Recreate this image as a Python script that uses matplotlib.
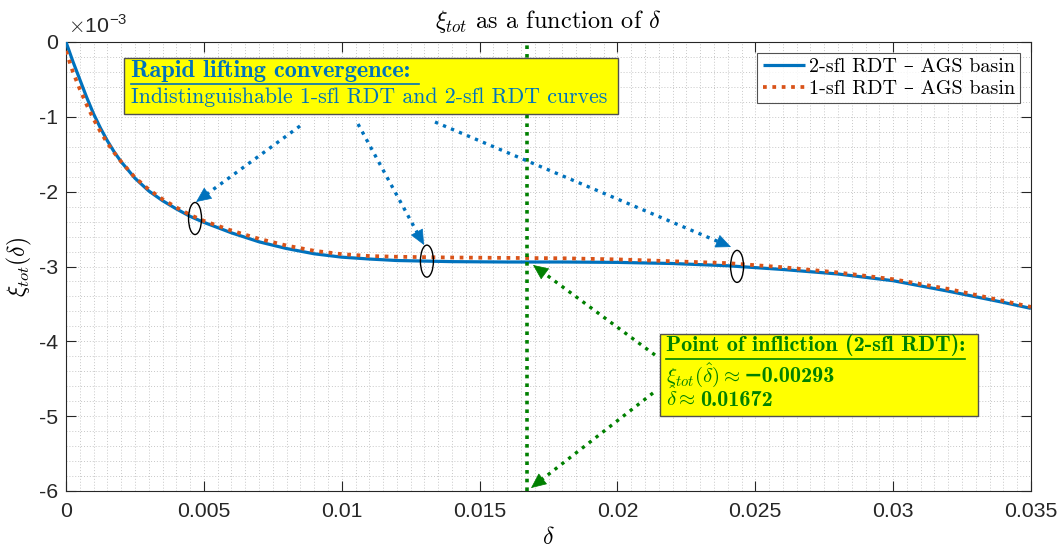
import numpy as np
import matplotlib
matplotlib.use("Agg")
import matplotlib.pyplot as plt
from matplotlib.patches import Ellipse, Rectangle, FancyArrowPatch
from matplotlib.lines import Line2D

# ---------------- data ----------------
delta = [0, 0.00025, 0.0005, 0.00075, 0.001, 0.00125, 0.0015, 0.00175, 0.002, 0.0025,
         0.003, 0.0035, 0.004, 0.0045, 0.005, 0.006, 0.007, 0.008, 0.009, 0.010,
         0.011, 0.012, 0.014, 0.016, 0.018, 0.020, 0.022, 0.024, 0.026, 0.028,
         0.030, 0.032, 0.034, 0.035]
xi_2sfl = [0.0, -0.26e-3, -0.50e-3, -0.74e-3, -0.96e-3, -1.15e-3, -1.32e-3, -1.47e-3,
           -1.60e-3, -1.82e-3, -1.99e-3, -2.12e-3, -2.23e-3, -2.33e-3, -2.41e-3,
           -2.55e-3, -2.67e-3, -2.76e-3, -2.83e-3, -2.875e-3, -2.90e-3, -2.92e-3,
           -2.935e-3, -2.94e-3, -2.94e-3, -2.945e-3, -2.96e-3, -2.99e-3, -3.04e-3,
           -3.10e-3, -3.19e-3, -3.33e-3, -3.48e-3, -3.56e-3]
xi_1sfl = [-0.12e-3, -0.40e-3, -0.63e-3, -0.84e-3, -1.03e-3, -1.20e-3, -1.35e-3, -1.48e-3,
           -1.60e-3, -1.81e-3, -1.97e-3, -2.10e-3, -2.21e-3, -2.31e-3, -2.39e-3,
           -2.52e-3, -2.63e-3, -2.72e-3, -2.79e-3, -2.835e-3, -2.86e-3, -2.87e-3,
           -2.88e-3, -2.885e-3, -2.89e-3, -2.905e-3, -2.93e-3, -2.955e-3, -3.01e-3,
           -3.08e-3, -3.17e-3, -3.30e-3, -3.46e-3, -3.54e-3]
x_ticks = [0, 0.005, 0.01, 0.015, 0.02, 0.025, 0.03, 0.035]
x_tick_labels = ["0", "0.005", "0.01", "0.015", "0.02", "0.025", "0.03", "0.035"]
y_ticks = [-6e-3, -5e-3, -4e-3, -3e-3, -2e-3, -1e-3, 0]
y_tick_labels = ["-6", "-5", "-4", "-3", "-2", "-1", "0"]
inflection_delta = 0.01672
inflection_xi = -0.00293
highlight_delta = [0.00468, 0.01309, 0.02434]
series_labels = ["2-sfl RDT \u2013 AGS basin", "1-sfl RDT \u2013 AGS basin"]

# ---------------- style ----------------
BLUE = "#0072BD"
ORANGE = "#D95319"
GREEN = "#008000"
plt.rcParams["mathtext.fontset"] = "cm"
TICKFONT = "Liberation Sans"
SERIF = ["cmr10", "DejaVu Serif"]
SERIF_B = ["cmb10", "DejaVu Serif"]

W, H = 1063, 550
fig = plt.figure(figsize=(W / 100, H / 100), dpi=100)
L, R, T, B = 66, 1031, 42, 491
ax = fig.add_axes([L / W, 1 - B / H, (R - L) / W, (B - T) / H])


def fp(x, y):
    return (x / W, 1 - y / H)


ax.plot(delta, xi_2sfl, color=BLUE, lw=2.3, solid_capstyle="butt", label=series_labels[0], zorder=4)
ax.plot(delta, xi_1sfl, color=ORANGE, lw=2.7, linestyle=(0, (1, 1.5)), label=series_labels[1], zorder=5)
ax.axvline(inflection_delta, color=GREEN, lw=2.6, linestyle=(0, (1, 1.4)), zorder=6)

ax.set_xlim(0, 0.035)
ax.set_ylim(-6e-3, 0)
ax.set_xticks(x_ticks)
ax.set_xticklabels(x_tick_labels, fontfamily=TICKFONT, fontsize=15.3)
ax.set_yticks(y_ticks)
ax.set_yticklabels(y_tick_labels, fontfamily=TICKFONT, fontsize=15.3)
ax.set_xticks(np.arange(0, 0.0351, 0.0005), minor=True)
ax.set_yticks(np.arange(-6e-3, 0.00001, 0.2e-3), minor=True)
ax.tick_params(which="major", direction="in", length=7, width=0.8, top=True, right=True, color="#262626",
               labelcolor="#262626")
ax.tick_params(axis="x", which="major", pad=8)
ax.tick_params(axis="y", which="major", pad=6)
ax.tick_params(which="minor", length=0, top=True, right=True)
ax.grid(which="both", color="#c8c8c8", lw=0.7, linestyle=(0, (1, 2)))
ax.set_axisbelow(True)
for s in ax.spines.values():
    s.set_color("#262626")
    s.set_linewidth(0.8)

fig.text(*fp(68, 26), r"$\times$10$^{\mathregular{-3}}$", fontfamily=TICKFONT, fontsize=15.3,
         va="center", ha="left", color="#262626")
ax.set_title(r"$\xi_{tot}$ as a function of $\delta$", fontfamily=SERIF, fontsize=17.5, pad=10)
ax.set_xlabel(r"$\delta$", fontsize=17, labelpad=3)
ax.set_ylabel(r"$\xi_{tot}(\delta)$", fontsize=17, labelpad=3)

leg = ax.legend(loc="upper right", bbox_to_anchor=(1 - 11 / (R - L), 1 - 11 / (B - T)),
                prop={"family": SERIF, "size": 14.5}, frameon=True, fancybox=False,
                edgecolor="#262626", handlelength=2.1, handletextpad=0.2, borderpad=0.25,
                labelspacing=0.2, borderaxespad=0)
leg.get_frame().set_linewidth(0.8)

# ellipses
ew = 13 / (R - L) * 0.035
eh = 32 / (B - T) * 6e-3
for d in highlight_delta:
    yc = np.interp(d, delta, xi_2sfl)
    ax.add_patch(Ellipse((d, yc), ew, eh, fill=False, edgecolor="black", lw=1.0, zorder=7))


def dotted_arrow(p0, p1, color, lw=2.4, head=13):
    x0, y0 = p0
    x1, y1 = p1
    d = np.hypot(x1 - x0, y1 - y0)
    ux, uy = (x1 - x0) / d, (y1 - y0) / d
    xb, yb = x1 - ux * head, y1 - uy * head
    fig.add_artist(Line2D([x0 / W, xb / W], [1 - y0 / H, 1 - yb / H], transform=fig.transFigure,
                          color=color, lw=lw, linestyle=(0, (1, 1.6)), zorder=8))
    fig.add_artist(FancyArrowPatch(fp(xb + ux * 0.5, yb + uy * 0.5), fp(x1, y1), transform=fig.transFigure,
                                   arrowstyle="-|>,head_length=1.0,head_width=0.45", mutation_scale=10,
                                   color=color, lw=0.5, shrinkA=0, shrinkB=0, zorder=8))


dotted_arrow((300, 126), (196, 202), BLUE)
dotted_arrow((358, 124), (424, 245), BLUE)
dotted_arrow((435, 122), (731, 247), BLUE)
dotted_arrow((655, 355), (533, 265), GREEN)
dotted_arrow((653, 393), (531, 488), GREEN)


def box(x0, y0, x1, y1):
    fig.add_artist(Rectangle(fp(x0, y1), (x1 - x0) / W, (y1 - y0) / H, transform=fig.transFigure,
                             facecolor="#FFFF00", edgecolor="#505050", lw=1.0, zorder=9))


def hline(x0, x1, y, color):
    fig.add_artist(Line2D([x0 / W, x1 / W], [1 - y / H, 1 - y / H], transform=fig.transFigure,
                          color=color, lw=1.2, zorder=10))


# box 1
box(124, 58, 618, 114)
fig.text(*fp(131, 71), "Rapid lifting convergence:", fontfamily=SERIF_B, fontsize=17.5, color=BLUE,
         va="center", ha="left", zorder=11)
hline(131, 419, 83.5, BLUE)
fig.text(*fp(131, 97.5), "Indistinguishable 1-sfl RDT and 2-sfl RDT curves", fontfamily=SERIF,
         fontsize=15.7, color=BLUE, va="center", ha="left", zorder=11)

# box 2
box(660, 334, 978, 416)
fig.text(*fp(666, 345), "Point of infliction (2-sfl RDT):", fontfamily=SERIF_B, fontsize=16, color=GREEN,
         va="center", ha="left", zorder=11)
hline(666, 965, 359, GREEN)

fig.canvas.draw()
renderer = fig.canvas.get_renderer()
lines = [(r"$\xi_{tot}(\hat{\delta})\approx$", "\u2212" + f"{abs(inflection_xi):.5f}", 382),
         (r"$\hat{\delta}\approx$", f"{inflection_delta:.5f}", 406.5)]
for prefix, number, yb in lines:
    t = fig.text(*fp(666, yb), prefix, fontsize=15, color=GREEN, va="baseline", ha="left", zorder=11)
    ext = t.get_window_extent(renderer)
    fig.text((ext.x1 + 4) / W, 1 - yb / H, number, fontfamily=SERIF_B, fontweight="bold", fontsize=16,
             color=GREEN, va="baseline", ha="left", zorder=11)

fig.savefig("out.png", dpi=100)
